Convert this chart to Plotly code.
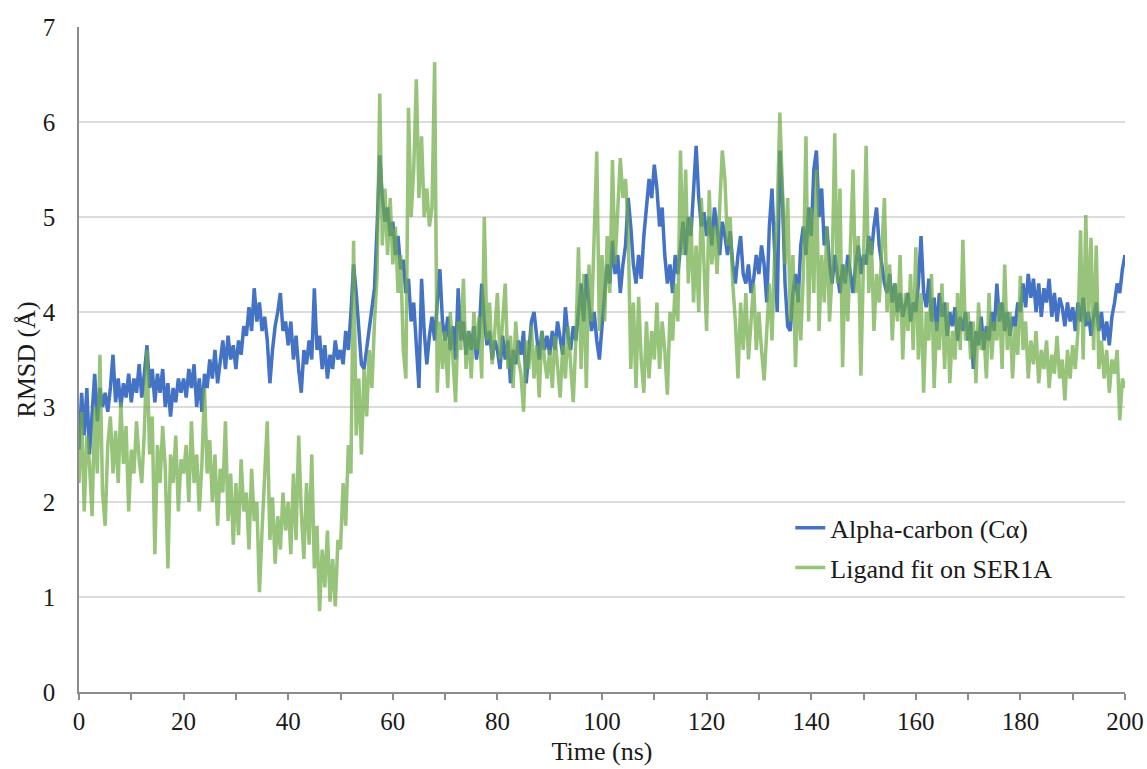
import plotly.graph_objects as go

# Simulation time axis: 0 to 200 ns sampled every 0.5 ns
time_ns = [i * 0.5 for i in range(401)]

# RMSD of the protein alpha-carbons (Å), one row per 10 ns
rmsd_calpha = [
    2.55, 3.15, 2.7, 3.2, 2.5, 2.95, 3.35, 2.85, 3.2, 3.0, 3.15, 2.95, 3.2, 3.55, 3.05, 3.3, 3.0, 3.25, 3.1, 3.35,
    3.05, 3.3, 3.15, 3.45, 3.1, 3.35, 3.65, 3.2, 3.4, 3.05, 3.35, 3.15, 3.4, 3.0, 3.25, 2.9, 3.2, 3.05, 3.3, 3.15,
    3.3, 3.1, 3.4, 3.2, 3.45, 3.0, 3.3, 2.95, 3.35, 3.2, 3.5, 3.3, 3.6, 3.25, 3.45, 3.7, 3.4, 3.75, 3.5, 3.65,
    3.4, 3.7, 3.55, 3.85, 3.75, 4.05, 3.8, 4.25, 3.9, 4.1, 3.8, 3.95, 3.7, 3.25, 3.6, 3.85, 4.0, 4.2, 3.8, 3.9,
    3.65, 3.9, 3.5, 3.75, 3.4, 3.15, 3.6, 3.45, 3.7, 3.5, 4.25, 3.6, 3.75, 3.4, 3.65, 3.3, 3.55, 3.4, 3.7, 3.5,
    3.6, 3.45, 3.8, 3.6, 4.0, 4.5, 4.2, 3.75, 3.45, 3.4, 3.6, 3.8, 4.0, 4.25, 4.9, 5.65, 5.2, 4.95, 5.1, 4.8,
    4.95, 4.6, 4.8, 4.45, 4.55, 4.2, 4.35, 3.9, 4.1, 3.6, 3.2, 4.35, 3.8, 3.45, 3.75, 3.95, 3.7, 4.1, 4.45, 3.9,
    3.7, 3.95, 3.6, 3.85, 3.5, 4.25, 3.7, 3.9, 3.55, 3.8, 3.6, 3.85, 3.5, 3.75, 4.3, 3.9, 3.65, 3.8, 3.5, 3.7,
    3.6, 3.4, 3.75, 3.5, 3.7, 3.25, 3.6, 3.45, 3.7, 3.55, 3.8, 3.25, 3.6, 3.9, 4.0, 3.7, 3.5, 3.8, 3.6, 3.75,
    3.55, 3.8, 3.6, 3.9, 3.7, 3.55, 4.05, 3.75, 3.6, 3.85, 3.7, 4.0, 4.3, 3.9, 4.4, 4.1, 3.8, 4.0, 3.7, 3.5,
    3.9, 4.2, 4.5, 4.3, 4.75, 4.4, 4.6, 4.2, 4.5, 4.7, 5.2, 4.9, 4.5, 4.3, 4.6, 4.35, 4.8, 5.1, 5.4, 5.2,
    5.55, 5.3, 4.9, 5.1, 4.6, 4.3, 4.5, 4.2, 4.6, 4.4, 4.7, 4.95, 4.6, 5.0, 4.8, 5.3, 5.75, 5.2, 4.9, 5.05,
    4.8, 5.0, 4.7, 5.1, 4.9, 4.6, 4.95, 4.8, 4.6, 4.85, 4.5, 4.3, 4.6, 4.8, 4.4, 4.3, 4.5, 4.2, 4.35, 4.6,
    4.4, 4.7, 4.5, 4.1, 4.9, 5.3, 4.6, 4.0, 5.7, 5.2, 4.3, 3.85, 3.8, 4.2, 4.4, 4.1, 4.7, 4.9, 4.6, 5.1,
    4.8, 5.5, 5.7, 5.0, 5.3, 4.7, 4.9, 4.5, 4.3, 4.6, 4.4, 4.2, 4.5, 4.3, 4.6, 4.4, 4.2, 4.5, 4.7, 4.4,
    4.6, 4.5, 4.8, 4.6, 4.9, 5.1, 4.7, 4.5, 4.3, 4.2, 4.4, 4.1, 4.3, 4.0, 4.2, 3.95, 4.1, 4.2, 3.9, 4.1,
    4.0, 4.3, 4.8, 4.2, 4.05, 4.35, 3.9, 4.15, 3.8, 4.2, 3.95, 4.1, 3.75, 4.0, 3.85, 4.05, 3.7, 3.95, 3.8, 4.0,
    3.7, 3.9, 3.4, 3.8, 3.65, 3.95, 3.6, 3.85, 3.7, 4.0, 3.8, 4.3, 3.9, 4.1, 3.8, 4.0, 3.75, 3.95, 3.85, 4.1,
    4.0, 4.3, 4.05, 4.4, 4.15, 4.35, 4.0, 4.3, 3.95, 4.25, 4.1, 4.35, 3.95, 4.2, 3.9, 4.15, 4.05, 3.85, 4.1, 3.9,
    4.05, 3.8, 4.1, 3.9, 4.15, 3.85, 4.0, 3.75, 3.95, 4.1, 3.8, 4.0, 3.7, 3.9, 3.65, 3.95, 4.1, 4.3, 4.2, 4.45,
    4.6,
]

# RMSD of the ligand after fitting on SER1A (Å), one row per 10 ns
rmsd_ligand = [
    2.2, 2.95, 1.9, 2.7, 2.4, 1.85, 3.0, 2.3, 3.55, 2.1, 1.75, 2.6, 2.9, 2.3, 2.75, 2.2, 3.05, 2.4, 2.8, 1.9,
    2.55, 2.3, 2.85, 2.45, 2.2, 2.75, 3.6, 2.5, 2.9, 1.45, 2.6, 2.2, 2.8, 2.35, 1.3, 2.5, 2.2, 2.7, 1.9, 2.45,
    2.3, 2.6, 2.0, 2.85, 2.2, 2.5, 1.9, 2.4, 3.2, 2.3, 2.65, 2.0, 2.5, 1.75, 2.35, 2.1, 2.85, 1.8, 2.3, 1.55,
    2.2, 1.65, 2.45, 1.9, 2.1, 1.5, 2.35, 1.8, 2.0, 1.05, 1.7, 2.2, 2.85, 1.6, 2.05, 1.35, 1.85, 1.5, 2.1, 1.7,
    2.0, 1.45, 2.3, 1.6, 2.7, 1.9, 1.4, 2.2, 1.55, 2.5, 1.3, 1.75, 0.85, 1.5, 1.1, 1.7, 0.95, 1.4, 0.9, 1.6,
    1.5, 2.2, 1.75, 2.6, 2.3, 4.75, 2.7, 3.3, 2.5, 3.4, 2.9, 3.6, 3.2, 3.9, 4.4, 6.3, 4.7, 5.3, 4.6, 5.2,
    4.5, 4.9, 4.2, 4.6, 3.6, 3.3, 6.15, 5.0, 5.5, 6.45, 5.2, 5.85, 5.0, 5.3, 4.9, 5.1, 6.63, 3.15, 3.9, 3.4,
    3.8, 3.2, 4.0, 3.5, 3.05, 3.9, 3.6, 4.35, 3.4, 3.8, 3.3, 4.0, 3.6, 3.95, 3.3, 5.0, 3.7, 4.1, 3.45, 3.8,
    4.2, 3.5, 3.9, 4.3, 3.4, 3.75, 3.2, 3.9, 3.5, 3.35, 2.95, 3.7, 3.4, 3.85, 3.3, 3.65, 3.1, 3.8, 3.5, 3.3,
    3.6, 3.2, 3.75, 3.4, 3.1, 3.65, 3.3, 3.85, 3.5, 3.05, 3.7, 4.68, 3.4, 4.4, 3.2, 4.5, 3.9, 4.9, 5.69, 3.8,
    4.6, 3.9, 4.8, 4.2, 5.6, 4.5, 5.0, 5.62, 5.2, 5.4, 4.9, 3.4, 4.1, 3.2, 4.16, 3.5, 3.15, 3.9, 3.3, 3.8,
    3.5, 4.1, 3.4, 3.9, 3.6, 3.13, 4.0, 3.7, 4.3, 3.9, 5.7, 4.6, 5.5, 4.3, 5.0, 4.1, 4.7, 4.0, 5.2, 4.5,
    3.8, 5.28, 4.5, 4.9, 4.4, 5.1, 5.7, 5.4, 4.7, 5.0, 4.3, 3.9, 3.3, 4.1, 3.6, 4.2, 3.5, 3.9, 4.3, 3.6,
    4.0, 3.6, 3.28, 3.8, 4.3, 3.7, 4.6, 5.0, 6.1, 5.3, 4.5, 5.2, 3.9, 4.6, 3.42, 4.3, 3.7, 4.4, 5.85, 3.9,
    5.1, 4.2, 5.5, 3.8, 4.6, 4.1, 4.9, 3.9, 4.4, 5.88, 4.3, 5.3, 3.42, 4.5, 3.9, 4.7, 5.5, 4.2, 4.8, 3.33,
    4.5, 5.75, 4.2, 4.75, 3.8, 4.4, 4.1, 4.6, 5.2, 4.0, 4.5, 3.7, 4.3, 3.9, 4.6, 3.5, 4.2, 3.8, 4.4, 3.6,
    4.68, 3.5, 4.2, 3.15, 4.0, 3.7, 4.4, 3.2, 3.9, 3.6, 4.3, 3.4, 4.1, 3.25, 3.8, 3.5, 4.2, 3.6, 4.76, 3.7,
    4.0, 3.5, 3.9, 3.25, 4.1, 3.6, 3.8, 3.3, 4.2, 3.5, 3.9, 3.7, 4.1, 3.4, 4.5, 3.6, 4.0, 3.3, 3.85, 3.55,
    4.38, 3.6, 3.9, 3.3, 3.7, 3.45, 3.8, 3.25, 3.6, 3.4, 3.7, 3.2, 3.55, 3.35, 3.75, 3.3, 3.5, 3.07, 3.6, 3.3,
    3.65, 3.4, 3.8, 4.86, 3.5, 5.02, 3.9, 4.78, 3.6, 4.7, 3.4, 3.7, 3.3, 3.6, 3.15, 3.5, 3.35, 3.6, 2.86, 3.3,
    3.2,
]

series_names = ["Alpha-carbon (Cα)", "Ligand fit on SER1A"]
x_tick_values = list(range(0, 201, 20))
y_tick_values = list(range(0, 8))

SERIF = "Liberation Serif, Times New Roman, serif"
AXIS_GREY = "#8c8c8c"

fig = go.Figure()
fig.add_trace(go.Scatter(
    x=time_ns, y=rmsd_calpha, mode="lines", name=series_names[0],
    line=dict(color="#4472C4", width=3.5), legend="legend", showlegend=True,
))
fig.add_trace(go.Scatter(
    x=time_ns, y=rmsd_ligand, mode="lines", name=series_names[1],
    line=dict(color="#70AD47", width=3.5), opacity=0.72, legend="legend2", showlegend=True,
))

legend_common = dict(
    xanchor="left", yanchor="middle", bgcolor="rgba(0,0,0,0)",
    font=dict(family=SERIF, size=26, color="#1a1a1a"),
    itemwidth=30, tracegroupgap=0, visible=True,
)

fig.update_layout(
    width=1147, height=769,
    margin=dict(l=79, r=22, t=27, b=77),
    paper_bgcolor="white", plot_bgcolor="white",
    showlegend=True,
    font=dict(family=SERIF, size=25, color="#1a1a1a"),
    legend=dict(x=0.68, y=0.247, **legend_common),
    legend2=dict(x=0.68, y=0.187, **legend_common),
    xaxis=dict(
        range=[0, 200], tickvals=x_tick_values, showgrid=False, zeroline=False,
        automargin=False,
        showline=True, linecolor=AXIS_GREY, linewidth=1.5,
        ticks="outside", ticklen=6, tickwidth=1.5, tickcolor=AXIS_GREY,
        minor=dict(dtick=10, ticks="outside", ticklen=6, tickwidth=1.5, tickcolor=AXIS_GREY, showgrid=False),
        tickfont=dict(family=SERIF, size=25), ticklabelstandoff=0,
        title=dict(text="Time (ns)", font=dict(family=SERIF, size=26), standoff=8),
    ),
    yaxis=dict(
        range=[0, 7], tickvals=y_tick_values, showgrid=True, gridcolor="#dcdcdc", gridwidth=1.5,
        zeroline=False, automargin=False,
        showline=True, linecolor=AXIS_GREY, linewidth=1.5, ticks="",
        tickfont=dict(family=SERIF, size=25), ticklabelstandoff=17,
        title=dict(text="RMSD (Å)", font=dict(family=SERIF, size=26), standoff=0),
    ),
)

fig.write_html("out.html")
